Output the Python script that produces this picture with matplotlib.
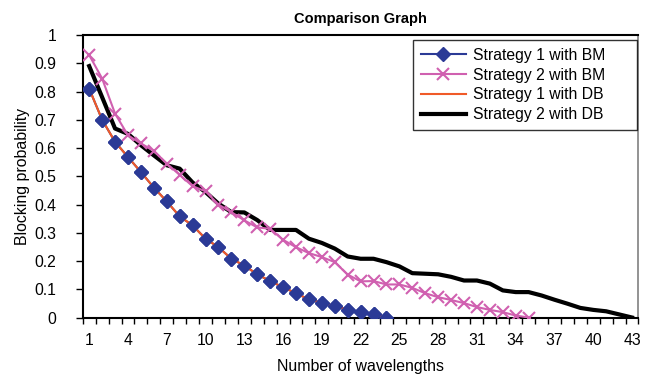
import numpy as np
import matplotlib
matplotlib.use("Agg")
import matplotlib.pyplot as plt

plt.rcParams['font.family'] = ['Liberation Sans', 'DejaVu Sans']

# data
s1_bm = [0.81, 0.70, 0.622, 0.568, 0.515, 0.46, 0.411, 0.358, 0.326, 0.279,
         0.249, 0.208, 0.184, 0.153, 0.129, 0.107, 0.086, 0.064, 0.052, 0.041,
         0.028, 0.018, 0.011, 0.0]
s2_bm = [0.929, 0.846, 0.722, 0.645, 0.616, 0.59, 0.545, 0.505, 0.465, 0.447,
         0.40, 0.373, 0.344, 0.319, 0.314, 0.275, 0.249, 0.228, 0.214, 0.196,
         0.152, 0.128, 0.129, 0.117, 0.117, 0.105, 0.086, 0.072, 0.062, 0.051,
         0.037, 0.027, 0.019, 0.007, 0.0]
s1_db = s1_bm
s2_db = [0.89, 0.78, 0.669, 0.65, 0.61, 0.574, 0.539, 0.527, 0.478, 0.444,
         0.403, 0.373, 0.372, 0.345, 0.31, 0.31, 0.31, 0.279, 0.264, 0.244,
         0.216, 0.208, 0.208, 0.196, 0.181, 0.157, 0.155, 0.153, 0.144, 0.131,
         0.131, 0.12, 0.096, 0.09, 0.09, 0.078, 0.063, 0.049, 0.034, 0.027,
         0.022, 0.011, 0.0]
n_cat = 43
xlabels = [str(i) for i in range(1, n_cat + 1, 3)]

fig = plt.figure(figsize=(6.55, 3.78), dpi=100)
ax = fig.add_axes([0.1263, 0.1600, 0.8485, 0.7474])

x1 = np.arange(1, len(s1_bm) + 1)
x2 = np.arange(1, len(s2_bm) + 1)
x3 = np.arange(1, len(s1_db) + 1)
x4 = np.arange(1, len(s2_db) + 1)

blue = '#2B3A96'
ax.plot(x1, s1_bm, color=blue, marker='D', markersize=7, lw=1.5,
        label='Strategy 1 with BM', zorder=3)
ax.plot(x2, s2_bm, color='#D060B0', marker='x', markersize=9, mew=1.5, lw=1.5,
        label='Strategy 2 with BM', zorder=4)
ax.plot(x3, s1_db, color='#F05A28', lw=1.5, label='Strategy 1 with DB', zorder=4.5)
ax.plot(x4, s2_db, color='black', lw=3, label='Strategy 2 with DB', zorder=2.5)
# diamonds sit on top of the orange line
ax.plot(x1, s1_bm, color=blue, marker='D', markersize=7, lw=0, zorder=5)

ax.set_xlim(0.5, n_cat + 0.5)
ax.set_ylim(0, 1)

ax.set_xticks(np.arange(0.5, n_cat + 1, 1))
ax.set_xticklabels([])
ax.set_xticks(np.arange(1, n_cat + 1, 3), minor=True)
ax.set_xticklabels(xlabels, minor=True)
ax.tick_params(axis='x', which='major', length=4, width=1, direction='out')
ax.tick_params(axis='x', which='minor', length=0, pad=11, labelsize=11.3)

yt = np.arange(0, 1.01, 0.1)
ax.set_yticks(yt)
ax.set_yticklabels(['0' if v == 0 else ('1' if v == 1 else f'{v:.1f}') for v in yt])
ax.tick_params(axis='y', length=5, width=1, direction='out', labelsize=11.3, pad=14)

for side in ['left', 'bottom', 'top']:
    ax.spines[side].set_color('black')
    ax.spines[side].set_linewidth(1.5)
ax.spines['right'].set_color('#808080')
ax.spines['right'].set_linewidth(1.2)

ax.set_title('Comparison Graph', fontsize=10.5, fontweight='bold', pad=9)
ax.set_xlabel('Number of wavelengths', fontsize=11.4, labelpad=8)
ax.set_ylabel('Blocking probability', fontsize=11.4, labelpad=3)

leg = ax.legend(loc='upper left', bbox_to_anchor=(0.594, 0.5, 0.403, 0.482),
                mode='expand', fontsize=11.3, frameon=True, fancybox=False,
                borderaxespad=0, handlelength=2.9, labelspacing=0.3,
                borderpad=0.5, handletextpad=0.45)
leg.get_frame().set_edgecolor('black')
leg.get_frame().set_linewidth(1)

fig.savefig('out.png', dpi=100)
